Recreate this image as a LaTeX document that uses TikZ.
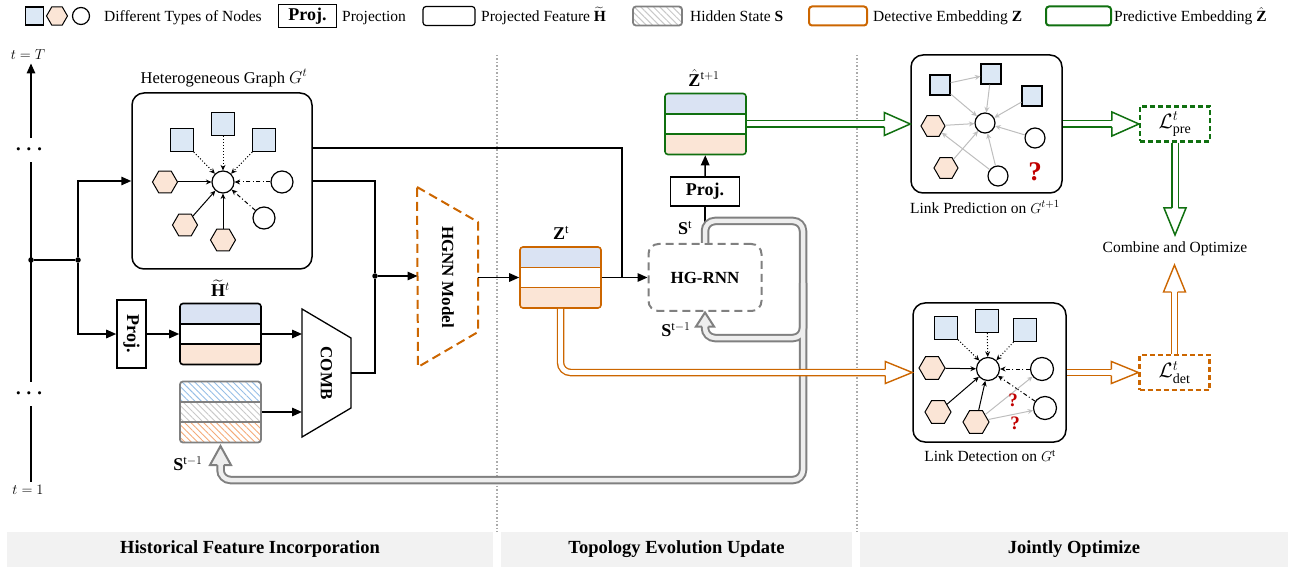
\documentclass[tikz,border=0pt]{standalone}
\usepackage{amsmath}
\usepackage{graphicx}
\usepackage{fontspec}
\setmainfont{Liberation Serif}
\usetikzlibrary{arrows.meta,shapes.geometric,patterns.meta,calc}

\definecolor{nodeblue}{RGB}{220,232,245}
\definecolor{stripeblue}{RGB}{218,227,243}
\definecolor{nodeorange}{RGB}{251,229,214}
\definecolor{detorange}{RGB}{204,102,0}
\definecolor{predgreen}{RGB}{16,112,16}
\definecolor{stategray}{RGB}{128,128,128}
\definecolor{pipegray}{RGB}{238,238,238}
\definecolor{hatchblue}{RGB}{150,190,230}
\definecolor{hatchgray}{RGB}{200,200,200}
\definecolor{hatchorange}{RGB}{244,170,120}
\definecolor{qred}{RGB}{192,0,0}
\definecolor{bandgray}{RGB}{242,242,242}
\definecolor{sepgray}{RGB}{170,170,170}
\definecolor{linkgray}{RGB}{190,190,190}

% hollow arrow head: options, tip, direction, length, half width, half opening
\newcommand\openhead[6]{%
  \begin{scope}[shift={(#2)},rotate=#3]
    \filldraw[#1,line join=miter] (-#4,#6) -- (-#4,#5) -- (0,0) -- (-#4,-#5) -- (-#4,-#6);
  \end{scope}}

\tikzset{
  txt/.style={font=\fontsize{15.5}{18}\selectfont},
  every node/.style={txt},
  lgtext/.style={anchor=base west, inner sep=0pt},
  symlbl/.style={font=\fontsize{18}{20}\selectfont, inner sep=0pt},
  sqnode/.style={draw, line width=1.2pt, fill=nodeblue, rectangle, minimum size=#1, inner sep=0pt},
  hexnode/.style={draw, line width=1pt, fill=nodeorange, regular polygon, regular polygon sides=6, minimum size=#1, inner sep=0pt},
  cirnode/.style={draw, line width=1.2pt, fill=white, circle, minimum size=#1, inner sep=0pt},
  dot/.style={circle, fill, inner sep=0pt, minimum size=5.5pt},
  vdots/.style={minimum height=24pt, inner sep=0pt, font=\fontsize{22}{22}\selectfont},
  wire/.style={line width=1.5pt},
  main/.style={wire, -{Triangle[length=10pt,width=8.5pt]}},
  ge/.style={line width=1pt, -{Stealth[length=5.5pt,width=5pt]}},
  gdot/.style={ge, dotted},
  gdash/.style={ge, dash pattern=on 4pt off 2.5pt on 1pt off 2.5pt},
  lpedge/.style={ge, color=linkgray},
  projbox/.style={draw, line width=1.6pt, inner sep=0pt, font=\fontsize{18}{20}\selectfont\bfseries},
  panel/.style={draw, line width=1.5pt, rounded corners=12pt, inner sep=0pt},
  lossbox/.style={draw=#1, line width=2.2pt, dash pattern=on 5pt off 3pt, minimum width=70pt, minimum height=35pt, inner sep=0pt, font=\fontsize{20}{22}\selectfont},
  band/.style={fill=bandgray, inner sep=0pt, minimum height=35pt, font=\fontsize{18.5}{21}\selectfont\bfseries},
  qmark/.style={text=qred, font=\fontsize{#1}{#1}\selectfont\bfseries, inner sep=0pt},
  sep/.style={sepgray, line width=1.5pt, dash pattern=on 1.5pt off 2pt},
  bold/.style={font=\fontsize{17}{19}\selectfont\bfseries},
  featbox/.style={draw=#1, line width=1.6pt, rounded corners=3pt, minimum width=81pt, minimum height=61pt, inner sep=0pt,
    path picture={
      \fill[stripeblue] (path picture bounding box.north west) rectangle ($(path picture bounding box.north east)!0.333!(path picture bounding box.south east)$);
      \fill[nodeorange] ($(path picture bounding box.north west)!0.667!(path picture bounding box.south west)$) rectangle (path picture bounding box.south east);
      \draw[#1, line width=1.6pt] ($(path picture bounding box.north west)!0.333!(path picture bounding box.south west)$) -- ($(path picture bounding box.north east)!0.333!(path picture bounding box.south east)$);
      \draw[#1, line width=1.6pt] ($(path picture bounding box.north west)!0.667!(path picture bounding box.south west)$) -- ($(path picture bounding box.north east)!0.667!(path picture bounding box.south east)$);
    }},
  statebox/.style={draw=stategray, line width=1.8pt, rounded corners=3pt, minimum width=81pt, minimum height=61pt, inner sep=0pt,
    path picture={
      \fill[pattern={Lines[angle=-45,distance=4.5pt,line width=0.9pt]}, pattern color=hatchblue] (path picture bounding box.north west) rectangle ($(path picture bounding box.north east)!0.333!(path picture bounding box.south east)$);
      \fill[pattern={Lines[angle=-45,distance=4.5pt,line width=0.9pt]}, pattern color=hatchgray] ($(path picture bounding box.north west)!0.333!(path picture bounding box.south west)$) rectangle ($(path picture bounding box.north east)!0.667!(path picture bounding box.south east)$);
      \fill[pattern={Lines[angle=-45,distance=4.5pt,line width=0.9pt]}, pattern color=hatchorange] ($(path picture bounding box.north west)!0.667!(path picture bounding box.south west)$) rectangle (path picture bounding box.south east);
      \draw[stategray, line width=1.8pt] ($(path picture bounding box.north west)!0.333!(path picture bounding box.south west)$) -- ($(path picture bounding box.north east)!0.333!(path picture bounding box.south east)$);
      \draw[stategray, line width=1.8pt] ($(path picture bounding box.north west)!0.667!(path picture bounding box.south west)$) -- ($(path picture bounding box.north east)!0.667!(path picture bounding box.south east)$);
    }},
  lghatch/.style={draw=stategray, line width=1.8pt, rounded corners=3pt, minimum width=49pt, minimum height=19pt, inner sep=0pt,
    path picture={\fill[pattern={Lines[angle=-45,distance=4.5pt,line width=1pt]}, pattern color=hatchgray] (path picture bounding box.south west) rectangle (path picture bounding box.north east);}},
}

\begin{document}
\begin{tikzpicture}[x=1pt,y=-1pt]
\useasboundingbox (0,0) rectangle (1293,569);

% ---------- legend ----------
\node[sqnode=18pt] (lgsq) at (34.5,16) {};
\node[hexnode=21pt] (lghx) at (57,16) {};
\node[cirnode=17pt] (lgci) at (81,16) {};
\node[lgtext] (lgtxa) at (104,21.5) {Different Types of Nodes};
\node[projbox, minimum width=58pt, minimum height=23pt] (lgproj) at (307.5,16) {Proj.};
\node[lgtext] (lgtxb) at (342,21.5) {Projection};
\node[draw, line width=1.2pt, rounded corners=3pt, minimum width=52pt, minimum height=19pt, inner sep=0pt] (lgfeat) at (449,16) {};
\node[lgtext] (lgtxc) at (481,21.5) {Projected Feature $\widetilde{\mathbf{H}}$};
\node[lghatch] (lgstate) at (657.5,16) {};
\node[lgtext] (lgtxd) at (690,21.5) {Hidden State $\mathbf{S}$};
\node[draw=detorange, line width=2pt, rounded corners=3pt, minimum width=58pt, minimum height=19pt, inner sep=0pt] (lgdet) at (838,16) {};
\node[lgtext] (lgtxe) at (873,21.5) {Detective Embedding $\mathbf{Z}$};
\node[draw=predgreen, line width=2pt, rounded corners=3pt, minimum width=65pt, minimum height=19pt, inner sep=0pt] (lgpred) at (1078.5,16) {};
\node[lgtext] (lgtxf) at (1114,21.5) {Predictive Embedding $\hat{\mathbf{Z}}$};

% ---------- section separators and captions ----------
\draw[sep] (497,55) -- (497,532);
\draw[sep] (857,55) -- (857,532);
\node[band, minimum width=486pt] (bandA) at (250,549.5) {Historical Feature Incorporation};
\node[band, minimum width=351pt] (bandB) at (676.5,549.5) {Topology Evolution Update};
\node[band, minimum width=428pt] (bandC) at (1074,549.5) {Jointly Optimize};

% ---------- time axis ----------
\node (tT) at (28,55) {$t = T$};
\node (tone) at (28,490) {$t = 1$};
\node[vdots] (vd1) at (31,150) {$\boldsymbol{\cdots}$};
\node[vdots] (vd2) at (31,394) {$\boldsymbol{\cdots}$};
\draw[main] (vd1) -- (vd1 |- tT.south);
\draw[wire] (vd1) -- (vd2);
\draw[wire] (vd2) -- (vd2 |- tone.north);
\node[dot] (ja) at (31,260) {};
\node[dot] (jb) at (78,260) {};
\draw[wire] (ja) -- (jb);

% ---------- heterogeneous graph ----------
\node[panel, minimum width=180pt, minimum height=176pt] (graph) at (222,181) {};
\node[font=\fontsize{16.5}{19}\selectfont] (graphlbl) at (224,78) {Heterogeneous Graph $G^t$};
\node[sqnode=23pt] (gs1) at (182,140) {};
\node[sqnode=23pt] (gs2) at (223,124) {};
\node[sqnode=23pt] (gs3) at (264,140) {};
\node[cirnode=22pt] (gc0) at (223,182) {};
\node[hexnode=25pt] (gh1) at (165,182) {};
\node[cirnode=22pt] (gc1) at (282,182) {};
\node[hexnode=25pt] (gh2) at (185,225) {};
\node[hexnode=25pt] (gh3) at (223,240) {};
\node[cirnode=22pt] (gc2) at (264,218) {};
\draw[gdot] (gs1) -- (gc0);
\draw[gdot] (gs2) -- (gc0);
\draw[gdot] (gs3) -- (gc0);
\draw[ge] (gh1) -- (gc0);
\draw[ge] (gh2) -- (gc0);
\draw[ge] (gh3) -- (gc0);
\draw[gdash] (gc1) -- (gc0);
\draw[gdash] (gc2) -- (gc0);

\draw[main] (jb) |- (graph.west);

% ---------- projection and combination ----------
\node[projbox, minimum width=29pt, minimum height=68pt] (proj1) at (131.5,334) {\rotatebox{-90}{Proj.}};
\draw[main] (jb) |- (proj1.west);
\node[featbox=black] (htil) at (220.5,334) {};
\node[symlbl] (htlbl) at (220.5,288) {$\widetilde{\mathbf{H}}^{t}$};
\node[statebox] (sprev) at (220.5,412) {};
\node[symlbl] (sprevlbl) at (188,464) {$\mathbf{S}^{\mathrm{t}{-}1}$};
\draw[main] (proj1) -- (htil);

\draw[line width=1.3pt, fill=white, line join=miter] (302,309) -- (351,338) -- (351,408) -- (302,437) -- cycle;
\node[bold] (comb) at (326.5,373) {\rotatebox{-90}{COMB}};
\coordinate (combinA) at (302,334);
\coordinate (combinB) at (302,412);
\coordinate (combout) at (351,373);
\draw[main] (htil.east) -- (combinA);
\draw[main] (sprev.east) -- (combinB);

\node[dot] (jc) at (375,276) {};
\draw[wire] (combout) -| (jc);
\draw[wire] (graph.east) -| (jc);

% ---------- HGNN ----------
\draw[detorange, line width=2pt, dash pattern=on 9pt off 5pt, line join=round] (417,187) -- (478,222) -- (478,332) -- (418,367) -- cycle;
\node[bold] (hgnn) at (448,277) {\rotatebox{-90}{HGNN Model}};
\coordinate (hgnnin) at (417.5,276);
\coordinate (hgnnout) at (478,277.5);
\draw[main] (jc) -- (hgnnin);

% ---------- embeddings and HG-RNN ----------
\node[featbox=detorange] (zt) at (560.5,277.5) {};
\node[symlbl] (ztlbl) at (561,233) {$\mathbf{Z}^{\mathrm{t}}$};
\draw[main] (hgnnout) -- (zt.west);
\node[draw=stategray, line width=2pt, dash pattern=on 8pt off 5pt, rounded corners=10pt, minimum width=113pt, minimum height=67pt, bold] (hgrnn) at (705,277.5) {HG-RNN};
\coordinate (jz) at (622,277.5);
\draw[main] (zt.east) -- (hgrnn.west);
\draw[wire] (graph.east |- 0,148) -| (jz);
\node[symlbl] (stlbl) at (685,228) {$\mathbf{S}^{\mathrm{t}}$};
\node[symlbl] (srnnlbl) at (676,330) {$\mathbf{S}^{\mathrm{t}{-}1}$};
\node[projbox, minimum width=69pt, minimum height=29pt] (proj2) at (705,191.5) {Proj.};
\node[featbox=predgreen] (zhat) at (705.5,124) {};
\node[symlbl] (zhatlbl) at (704,78) {$\hat{\mathbf{Z}}^{\mathrm{t}{+}1}$};
\draw[main] (proj2) -- (zhat);
\draw[wire] (hgrnn.north) -- (proj2.south);

% ---------- hidden state pipes ----------
\draw[stategray, line width=8.5pt, rounded corners=10pt] (hgrnn.north) -- (705,221) -- (803,221) -- (803,480) -- (220.5,480) -- (220.5,464);
\draw[stategray, line width=8.5pt, rounded corners=10pt] (803,283) -- (803,338) -- (705,338) -- (705,325);
\draw[pipegray, line width=4.5pt, rounded corners=10pt] (hgrnn.north) -- (705,221) -- (803,221) -- (803,480) -- (220.5,480) -- (220.5,464);
\draw[pipegray, line width=4.5pt, rounded corners=10pt] (803,283) -- (803,338) -- (705,338) -- (705,325);
\openhead{draw=stategray,fill=pipegray,line width=2pt}{220.5,446}{90}{19}{10.5}{3.25}
\openhead{draw=stategray,fill=pipegray,line width=2pt}{705,312.5}{90}{14}{9}{3.25}

% ---------- link prediction ----------
\node[panel, minimum width=151pt, minimum height=138pt] (lp) at (986.5,124) {};
\node (lplbl) at (985,207) {Link Prediction on $G^{t+1}$};
\node[sqnode=20pt] (ps1) at (940,85) {};
\node[sqnode=20pt] (ps2) at (991,74) {};
\node[sqnode=20pt] (ps3) at (1032,96) {};
\node[hexnode=24pt] (ph1) at (933,126) {};
\node[cirnode=20pt] (pc0) at (985,123) {};
\node[cirnode=20pt] (pc1) at (1035,138) {};
\node[hexnode=24pt] (ph2) at (946,168) {};
\node[cirnode=20pt] (pc2) at (998,176) {};
\node[qmark=27] (pq) at (1035,172) {?};
\draw[lpedge] (ps1) -- (ps2);
\draw[lpedge] (ps1) -- (pc0);
\draw[lpedge] (ps2) -- (pc0);
\draw[lpedge] (ps3) -- (pc0);
\draw[lpedge] (ph1) -- (pc0);
\draw[lpedge] (pc1) -- (pc0);
\draw[lpedge] (ph2) -- (pc0);
\draw[lpedge] (pc2) -- (pc0);
\draw[lpedge] (pc2) -- (ph1);
\node[lossbox=predgreen] (lpre) at (1175,124) {$\mathcal{L}^{t}_{\mathrm{pre}}$};
\node (comblbl) at (1175,249) {Combine and Optimize};

% ---------- link detection ----------
\node[panel, minimum width=153pt, minimum height=139pt] (ld) at (989.5,372.5) {};
\node (ldlbl) at (990,456) {Link Detection on $G^{\mathrm{t}}$};
\node[sqnode=23pt] (ds1) at (946,328) {};
\node[sqnode=23pt] (ds2) at (987,321) {};
\node[sqnode=23pt] (ds3) at (1025,330) {};
\node[hexnode=26pt] (dh1) at (932,368) {};
\node[cirnode=23pt] (dc0) at (988,369) {};
\node[cirnode=23pt] (dc1) at (1042,369) {};
\node[hexnode=26pt] (dh2) at (938,412) {};
\node[hexnode=26pt] (dh3) at (976,422) {};
\node[cirnode=23pt] (dc2) at (1045,408) {};
\draw[gdot] (ds1) -- (dc0);
\draw[gdot] (ds2) -- (dc0);
\draw[gdot] (ds3) -- (dc0);
\draw[ge] (dh1) -- (dc0);
\draw[ge] (dh2) -- (dc0);
\draw[ge] (dh3) -- (dc0);
\draw[gdash] (dc1) -- (dc0);
\draw[gdash] (dc2) -- (dc0);
\draw[lpedge] (dh3) -- (dc1);
\draw[lpedge] (dh3) -- (dc2);
\node[qmark=19] (dq1) at (1013,400) {?};
\node[qmark=19] (dq2) at (1015,423) {?};
\node[lossbox=detorange] (ldet) at (1174.5,372.5) {$\mathcal{L}^{t}_{\mathrm{det}}$};

% ---------- embedding and loss pipes ----------
\draw[predgreen, line width=8pt] (zhat.east) -- (886,124);
\draw[white, line width=5pt] (zhat.east) -- (886,124);
\openhead{draw=predgreen,fill=white,line width=1.5pt}{lp.west}{0}{26}{11.5}{3.25}
\draw[predgreen, line width=8pt] (lp.east) -- (1115,124);
\draw[white, line width=5pt] (lp.east) -- (1115,124);
\openhead{draw=predgreen,fill=white,line width=1.5pt}{lpre.west}{0}{27}{12}{3.25}
\draw[predgreen, line width=8pt] (lpre.south) -- (1175,209);
\draw[white, line width=5pt] (lpre.south) -- (1175,209);
\openhead{draw=predgreen,fill=white,line width=1.5pt}{1175,235}{-90}{27}{11}{3.25}

\draw[detorange, line width=7.5pt, rounded corners=10pt] (zt.south) -- (560.5,372.5) -- (888,372.5);
\draw[white, line width=4.8pt, rounded corners=10pt] (zt.south) -- (560.5,372.5) -- (888,372.5);
\openhead{draw=detorange,fill=white,line width=1.4pt}{ld.west}{0}{27}{11}{3.1}
\draw[detorange, line width=7.5pt] (ld.east) -- (1115,372.5);
\draw[white, line width=4.8pt] (ld.east) -- (1115,372.5);
\openhead{draw=detorange,fill=white,line width=1.4pt}{ldet.west}{0}{27}{11}{3.1}
\draw[detorange, line width=7.5pt] (ldet.north) -- (1174.5,291);
\draw[white, line width=4.8pt] (ldet.north) -- (1174.5,291);
\openhead{draw=detorange,fill=white,line width=1.4pt}{1174.5,265}{90}{27}{11}{3.1}

\end{tikzpicture}
\end{document}
